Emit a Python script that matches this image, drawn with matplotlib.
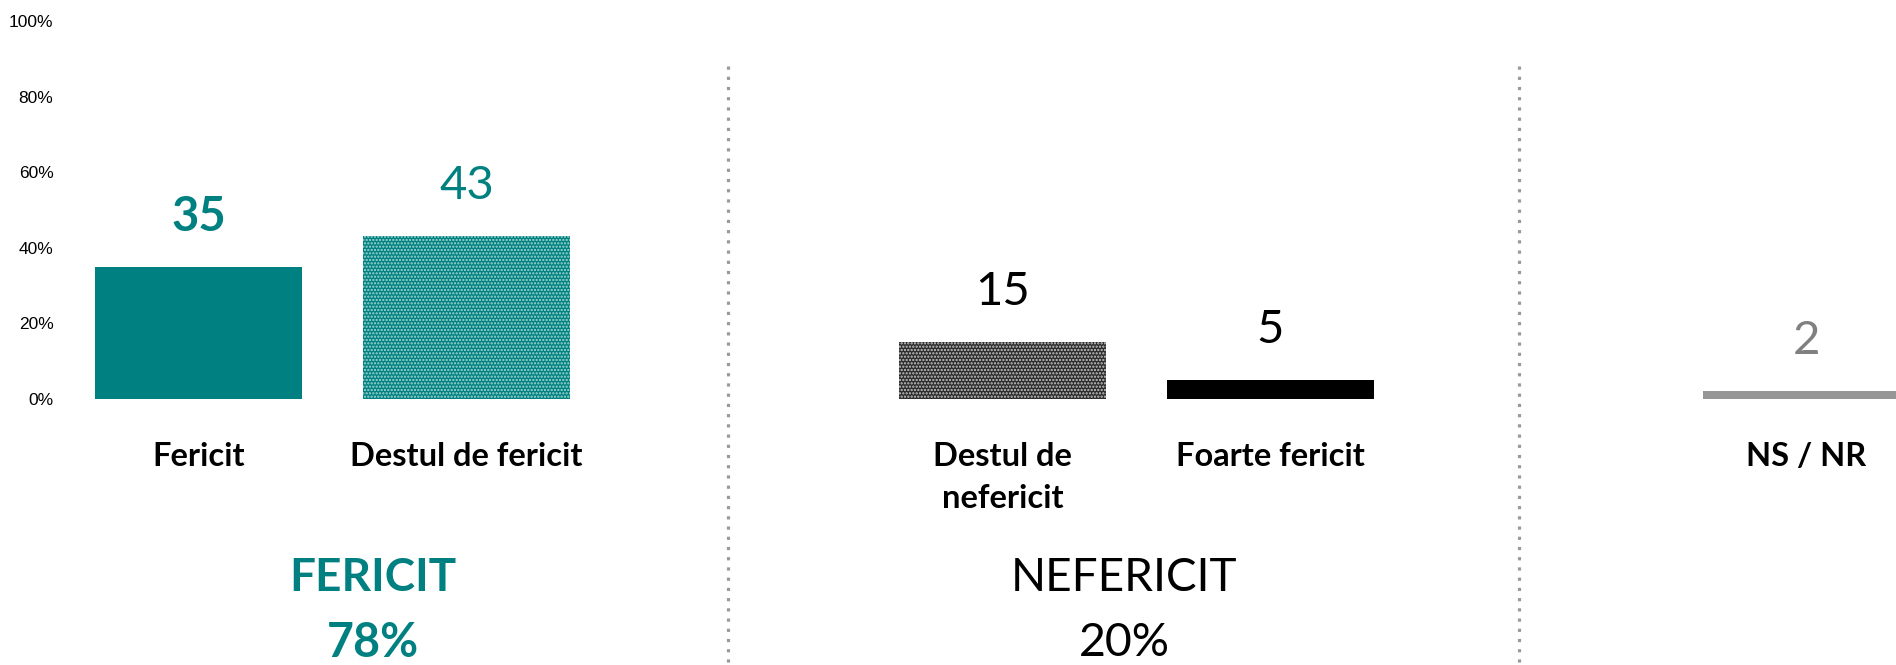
import matplotlib
matplotlib.use("Agg")
import matplotlib.pyplot as plt

# ---- data ----
categories = ["Fericit", "Destul de fericit", "Destul de\nnefericit", "Foarte fericit", "NS / NR"]
values = [35, 43, 15, 5, 2]
group_sizes = [2, 2, 1]
group_names = ["FERICIT", "NEFERICIT"]
group_totals = [78, 20]
yticks = [0, 20, 40, 60, 80, 100]
ytick_labels = ["0%", "20%", "40%", "60%", "80%", "100%"]

# ---- styles ----
TEAL = "#008080"
bar_face = [TEAL, TEAL, "#2b2b2b", "#000000", "#969696"]
bar_hatch = [None, ".....", ".....", None, None]
hatch_col = [TEAL, "#a6d9d5", "#c8c8c8", "#000000", "#969696"]
val_color = [TEAL, TEAL, "#000000", "#000000", "#808080"]
val_weight = ["bold", "normal", "normal", "normal", "normal"]
grp_color = [TEAL, "#000000"]
grp_weight = ["bold", "normal"]
FONT = "Lato"

# positions: groups separated by one empty slot
positions = []
p = 0
for gs in group_sizes:
    for _ in range(gs):
        positions.append(p)
        p += 1
    p += 1

plt.rcParams["hatch.linewidth"] = 1.1

fig = plt.figure(figsize=(18.96, 6.65), dpi=100)
W, H = 1896, 665
x_left_px, x0_px, slot_px = 64.5, 198.5, 268.0
y0_px, y100_px = 399.0, 21.0
ax = fig.add_axes([x_left_px / W, (H - y0_px) / H, 1 - x_left_px / W, (y0_px - y100_px) / H])
ax.set_xlim(-0.5, (W - x0_px) / slot_px)
ax.set_ylim(0, 100)
ppu = (y0_px - y100_px) / 100.0  # px per data unit

for i, (x, v) in enumerate(zip(positions, values)):
    ax.bar(x, v, width=207 / slot_px, color=bar_face[i], edgecolor=hatch_col[i],
           linewidth=0, hatch=bar_hatch[i], zorder=2)
    ax.annotate(str(v), (x, v), xytext=(0, 36), textcoords="offset points",
                ha="center", va="center", fontsize=34, fontfamily=FONT,
                fontweight=val_weight[i], color=val_color[i])
    for j, line in enumerate(categories[i].split("\n")):
        ax.text(x, -(457 - y0_px + 42 * j) / ppu, line, ha="center", va="center",
                fontsize=23.5, fontweight="bold", fontfamily=FONT, color="black",
                clip_on=False)

# group summaries
grp_x_px = [373, 1124]
for g, name in enumerate(group_names):
    gx = (grp_x_px[g] - x0_px) / slot_px
    ax.text(gx, -(578 - y0_px) / ppu, name, ha="center", va="center", fontsize=33,
            fontfamily=FONT, fontweight=grp_weight[g], color=grp_color[g], clip_on=False)
    ax.text(gx, -(643 - y0_px) / ppu, f"{group_totals[g]}%", ha="center", va="center",
            fontsize=33.5, fontfamily=FONT, fontweight=grp_weight[g], color=grp_color[g],
            clip_on=False)

# dotted separators
for sx_px in [727.7, 1519]:
    sx = (sx_px - x0_px) / slot_px
    ax.plot([sx, sx], [(y0_px - 66) / ppu, -(H - y0_px) / ppu], linestyle=(0, (1, 2.2)),
            color="#9a9a9a", linewidth=2.3, clip_on=False, zorder=1)

ax.set_yticks(yticks)
ax.set_yticklabels(ytick_labels, fontsize=12.5, fontfamily="Liberation Sans")
ax.tick_params(axis="y", length=0, pad=8)
ax.set_xticks([])
for s in ax.spines.values():
    s.set_visible(False)

fig.savefig("out.png", dpi=100, facecolor="white")
